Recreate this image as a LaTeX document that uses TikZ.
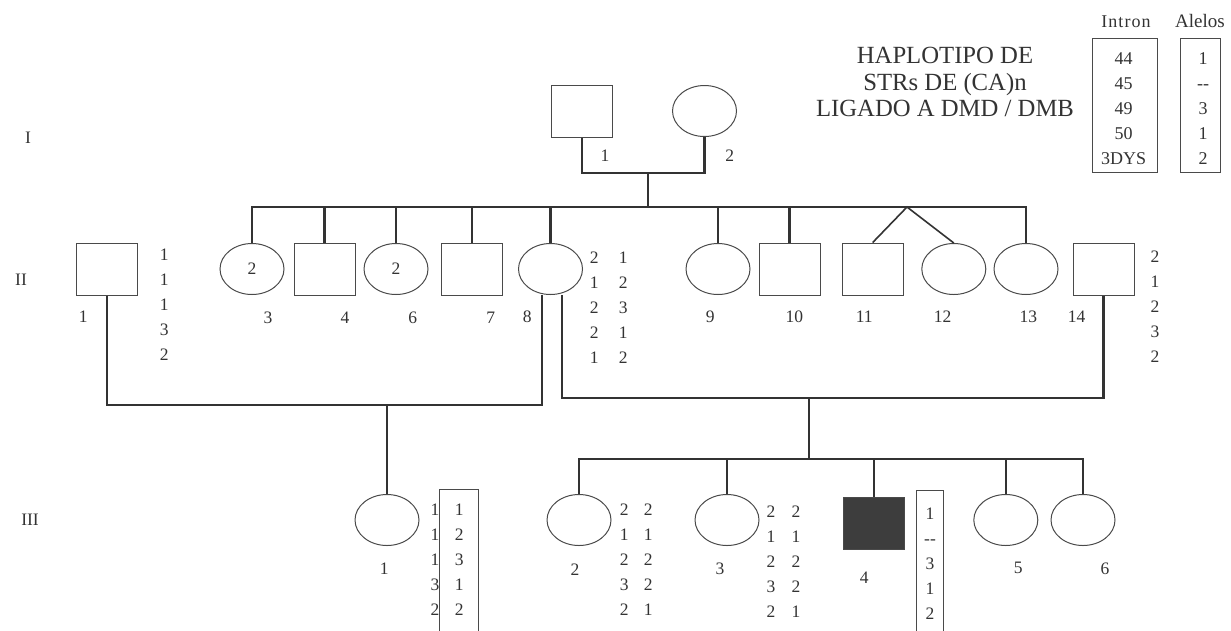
\documentclass[tikz,border=0pt]{standalone}
\usepackage{fontspec}
\setmainfont{Liberation Serif}
\usepackage{tikz}
\usetikzlibrary{shapes.geometric,positioning}
\definecolor{ink}{HTML}{333333}
\definecolor{edge}{HTML}{4A4A4A}
\definecolor{sick}{HTML}{3D3D3D}

\begin{document}
\begin{tikzpicture}[x=1pt, y=-1pt,
  male/.style={draw=edge, line width=1pt, minimum width=61pt, minimum height=52pt, inner sep=0pt},
  female/.style={ellipse, draw=edge, line width=1pt, minimum width=64pt, minimum height=51pt,
                 inner sep=0pt, font=\fontsize{17.5}{20}\selectfont, text=ink},
  affected/.style={male, fill=sick},
  num/.style={font=\fontsize{17.5}{20}\selectfont, text=ink, inner sep=0pt},
  col/.style={font=\fontsize{17.5}{25}\selectfont, text=ink, align=center, inner sep=0pt},
  box/.style={draw=edge, line width=1pt},
  conn/.style={draw=ink, line width=2.2pt}]
  \fill[white] (0,0) rectangle (1231,630);
  \useasboundingbox (0,0) rectangle (1231,630);

  % generations
  \node[num] (gI) at (28,138) {I};
  \node[num] (gII) at (21,280) {II};
  \node[num] (gIII) at (30,520) {III};

  % legend
  \node[font=\fontsize{24.7}{26.7}\selectfont, text=ink, align=center] (head) at (945,82)
    {HAPLOTIPO DE\\STRs DE (CA)n\\LIGADO A DMD / DMB};
  \node[font=\fontsize{18}{20}\selectfont\addfontfeature{LetterSpace=6}, text=ink] (hintron) at (1126,22) {Intron};
  \node[font=\fontsize{19}{20}\selectfont, text=ink] (halelos) at (1200,21) {Alelos};
  \node[box, minimum width=65pt, minimum height=134pt] (bintron) at (1124.7,105.5) {};
  \node[box, minimum width=40pt, minimum height=134pt] (balelos) at (1200,105.5) {};
  \node[col, font=\fontsize{18}{25}\selectfont] (lintron) at (1123.5,108.3) {44\\45\\49\\50\\3DYS};
  \node[col, font=\fontsize{18}{25}\selectfont] (lalelos) at (1203,108.3) {1\\-{}-\\3\\1\\2};

  % generation I
  \node[male] (i1) at (582,111) {};
  \node[female] (i2) at (704.5,111) {};
  \node[num] (n-i1) at (605,156) {1};
  \node[num] (n-i2) at (729.7,156) {2};

  % generation II
  \node[male] (ii1) at (107,269) {};
  \node[female] (ii3) at (252,269) {2};
  \node[male] (ii4) at (324.5,269) {};
  \node[female] (ii6) at (396,269) {2};
  \node[male] (ii7) at (472,269) {};
  \node[female] (ii8) at (550.5,269) {};
  \node[female] (ii9) at (718,269) {};
  \node[male] (ii10) at (789.5,269) {};
  \node[male] (ii11) at (872.7,269) {};
  \node[female] (ii12) at (953.8,269) {};
  \node[female] (ii13) at (1026,269) {};
  \node[male] (ii14) at (1103.5,269) {};
  \node[num] (n-ii1) at (83.3,317) {1};
  \node[num] (n-ii3) at (268,318) {3};
  \node[num] (n-ii4) at (345,318) {4};
  \node[num] (n-ii6) at (412.7,318) {6};
  \node[num] (n-ii7) at (490.7,318) {7};
  \node[num] (n-ii8) at (527.3,317) {8};
  \node[num] (n-ii9) at (710.3,317) {9};
  \node[num] (n-ii10) at (794.3,317) {10};
  \node[num] (n-ii11) at (864.3,317) {11};
  \node[num] (n-ii12) at (942.7,317) {12};
  \node[num] (n-ii13) at (1028.3,317) {13};
  \node[num] (n-ii14) at (1076.7,317) {14};
  \node[col] (a-ii1) at (164.3,305) {1\\1\\1\\3\\2};
  \node[col] (a-ii8a) at (594.3,307.3) {2\\1\\2\\2\\1};
  \node[col] (a-ii8b) at (623.3,307.3) {1\\2\\3\\1\\2};
  \node[col] (a-ii14) at (1155,307) {2\\1\\2\\3\\2};

  % generation III
  \node[female] (iii1) at (387,520) {};
  \node[female] (iii2) at (579,520) {};
  \node[female] (iii3) at (727,520) {};
  \node[affected] (iii4) at (873.7,523) {};
  \node[female] (iii5) at (1005.8,520) {};
  \node[female] (iii6) at (1083,520) {};
  \node[num] (n-iii1) at (384.3,569) {1};
  \node[num] (n-iii2) at (575,570) {2};
  \node[num] (n-iii3) at (720,568.3) {3};
  \node[num] (n-iii4) at (864.3,577.3) {4};
  \node[num] (n-iii5) at (1018.3,568.3) {5};
  \node[num] (n-iii6) at (1105,568.3) {6};
  \node[col, align=right, anchor=east] (a-iii1a) at (439.5,560) {1\\1\\1\\3\\2};
  \draw[box] (439.3,645) |- (478.7,489.3) -- (478.7,645);
  \node[col] (a-iii1b) at (459.3,560) {1\\2\\3\\1\\2};
  \node[col] (a-iii2a) at (624.3,560) {2\\1\\2\\3\\2};
  \node[col] (a-iii2b) at (648.3,560) {2\\1\\2\\2\\1};
  \node[col] (a-iii3a) at (771,561.7) {2\\1\\2\\3\\2};
  \node[col] (a-iii3b) at (796,561.7) {2\\1\\2\\2\\1};
  \draw[box] (916.7,645) |- (943.3,490) -- (943.3,645);
  \node[col] (a-iii4) at (930,564) {1\\-{}-\\3\\1\\2};

  % lines of descent
  \coordinate (mI) at (648,173);
  \coordinate (sibII) at (648,207);
  \draw[conn] (i1.south) |- (mI) -| (i2.south);
  \draw[conn] (mI) -- (sibII);
  \draw[conn] (ii3.north) -- (ii3.north |- sibII) -- (ii13.north |- sibII) -- (ii13.north);
  \draw[conn] (ii4.north) -- (ii4.north |- sibII);
  \draw[conn] (ii6.north) -- (ii6.north |- sibII);
  \draw[conn] (ii7.north) -- (ii7.north |- sibII);
  \draw[conn] (ii8.north) -- (ii8.north |- sibII);
  \draw[conn] (ii9.north) -- (ii9.north |- sibII);
  \draw[conn] (ii10.north) -- (ii10.north |- sibII);
  \coordinate (twin) at (907,207);
  \draw[conn, line width=1.6pt] (ii11.north) -- (twin) -- (ii12.north);

  \coordinate (m18) at (387,405);
  \coordinate (l8) at ([xshift=-8.5pt]ii8.south);
  \coordinate (r8) at ([xshift=11.5pt]ii8.south);
  \draw[conn] (ii1.south) |- (l8 |- m18) -- (l8);
  \draw[conn] (m18) -- (iii1.north);

  \coordinate (m814) at (809,398);
  \coordinate (sibIII) at (809,459);
  \draw[conn] (r8) |- (ii14.south |- m814) -- (ii14.south);
  \draw[conn] (m814) -- (sibIII);
  \draw[conn] (iii2.north) -- (iii2.north |- sibIII) -- (iii6.north |- sibIII) -- (iii6.north);
  \draw[conn] (iii3.north) -- (iii3.north |- sibIII);
  \draw[conn] (iii4.north) -- (iii4.north |- sibIII);
  \draw[conn] (iii5.north) -- (iii5.north |- sibIII);
\end{tikzpicture}
\end{document}
